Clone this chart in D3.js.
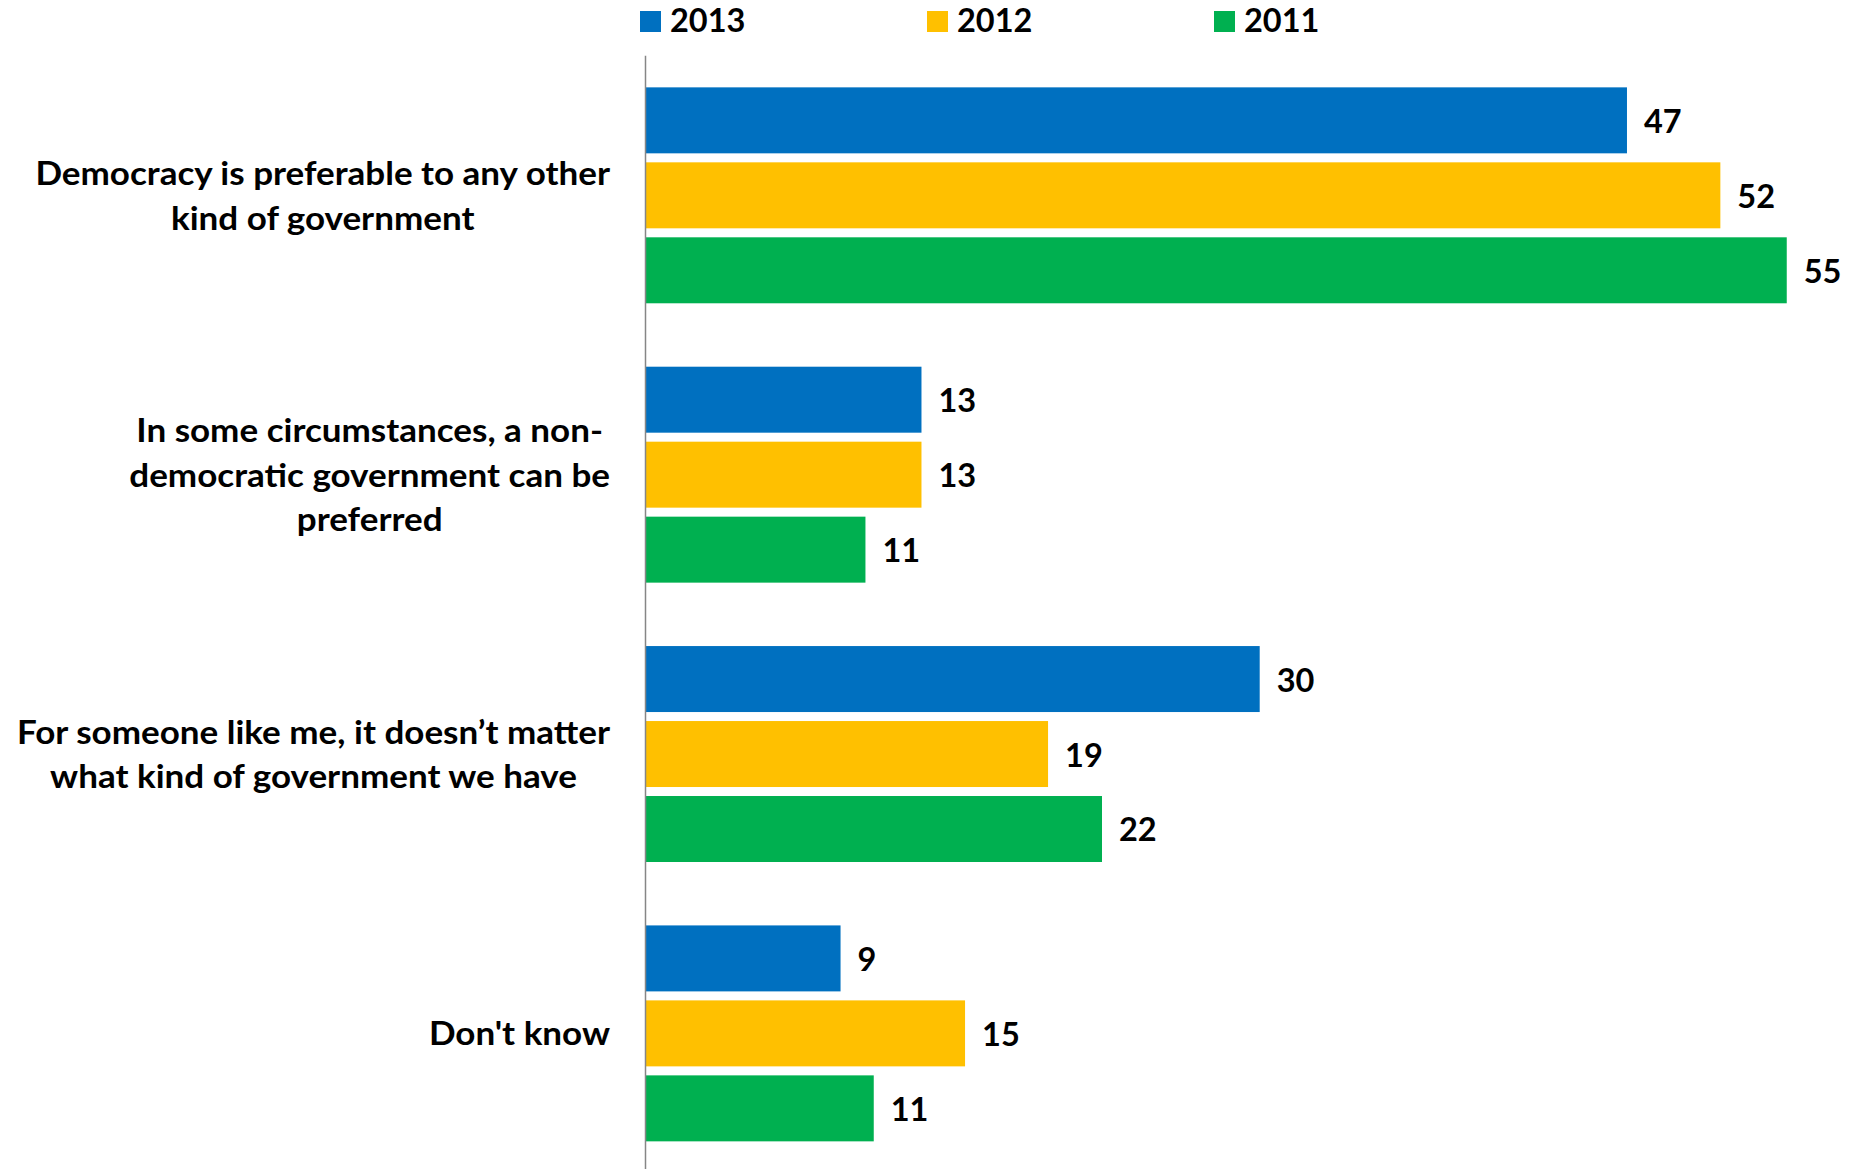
<!DOCTYPE html>
<html>
<head>
<meta charset="utf-8">
<script src="https://cdn.jsdelivr.net/npm/d3@7"></script>
<style>
  html, body { margin: 0; padding: 0; background: #fff; }
  svg { display: block; }
  text { font-family: Lato, "Open Sans", sans-serif; font-weight: 700; fill: #000; }
</style>
</head>
<body>
<svg id="chart" width="1858" height="1169"></svg>
<script>
// ---- data ----
const categories = [
  ["Democracy is preferable to any other", "kind of government"],
  ["In some circumstances, a non-", "democratic government can be", "preferred"],
  ["For someone like me, it doesn\u2019t matter", "what kind of government we have"],
  ["Don't know"]
];
const seriesNames = ["2013", "2012", "2011"];
const values2013 = [47.3, 13.3, 29.6, 9.4];
const values2012 = [51.8, 13.3, 19.4, 15.4];
const values2011 = [55.0, 10.6, 22.0, 11.0];
const seriesColors = ["#0070C0", "#FFC000", "#00B050"];

const series = [values2013, values2012, values2011];

// ---- layout ----
const svg = d3.select("#chart");
const W = 1858, H = 1169;
const x0 = 645.5, plotTop = 55.7, plotBottom = 1173;

const x = d3.scaleLinear().domain([0, 60]).range([x0, x0 + 60 * 20.75]);
const y = d3.scaleBand()
  .domain(d3.range(categories.length))
  .range([plotTop, plotBottom])
  .paddingInner(0.227)
  .paddingOuter(0.1133);
const ySub = d3.scaleBand()
  .domain(d3.range(seriesNames.length))
  .range([0, y.bandwidth()])
  .paddingInner(0.12)
  .paddingOuter(0);

const fs = 32.5;

// bars
const groups = svg.append("g").selectAll("g")
  .data(categories.map((c, i) => i))
  .join("g")
  .attr("transform", i => `translate(0,${y(i)})`);

groups.selectAll("rect")
  .data(i => series.map((s, j) => ({ v: s[i], j })))
  .join("rect")
  .attr("x", x(0))
  .attr("y", d => ySub(d.j))
  .attr("width", d => x(d.v) - x(0))
  .attr("height", ySub.bandwidth())
  .attr("fill", d => seriesColors[d.j]);

groups.selectAll("text.val")
  .data(i => series.map((s, j) => ({ v: s[i], j })))
  .join("text")
  .attr("class", "val")
  .attr("x", d => x(d.v) + 17)
  .attr("y", d => ySub(d.j) + ySub.bandwidth() / 2 + 12.5)
  .style("font-size", fs + "px")
  .text(d => d3.format(".0f")(d.v));

// axis line
svg.append("line")
  .attr("x1", x0).attr("x2", x0)
  .attr("y1", plotTop).attr("y2", H)
  .attr("stroke", "#868686").attr("stroke-width", 1.5);

// category labels
const rightEdge = 610;
const lh = 44.5;
const widen = 1.077;
categories.forEach((lines, i) => {
  const g = svg.append("g");
  const cy = y(i) + y.bandwidth() / 2;
  const texts = lines.map((t, k) => g.append("text")
    .style("font-size", fs + "px")
    .attr("text-anchor", "middle")
    .attr("y", cy + (k - (lines.length - 1) / 2) * lh + 12)
    .text(t));
  const widths = texts.map(t => t.node().getComputedTextLength() * widen);
  const maxW = d3.max(widths);
  texts.forEach((t, k) => t
    .attr("x", rightEdge - maxW / 2)
    .attr("textLength", widths[k])
    .attr("lengthAdjust", "spacingAndGlyphs"));
});

// legend
const legend = svg.append("g");
seriesNames.forEach((name, j) => {
  const lx = 640 + j * 287;
  legend.append("rect")
    .attr("x", lx).attr("y", 11).attr("width", 21).attr("height", 21)
    .attr("fill", seriesColors[j]);
  legend.append("text")
    .attr("x", lx + 30).attr("y", 32)
    .style("font-size", fs + "px")
    .text(name);
});
</script>
</body>
</html>
